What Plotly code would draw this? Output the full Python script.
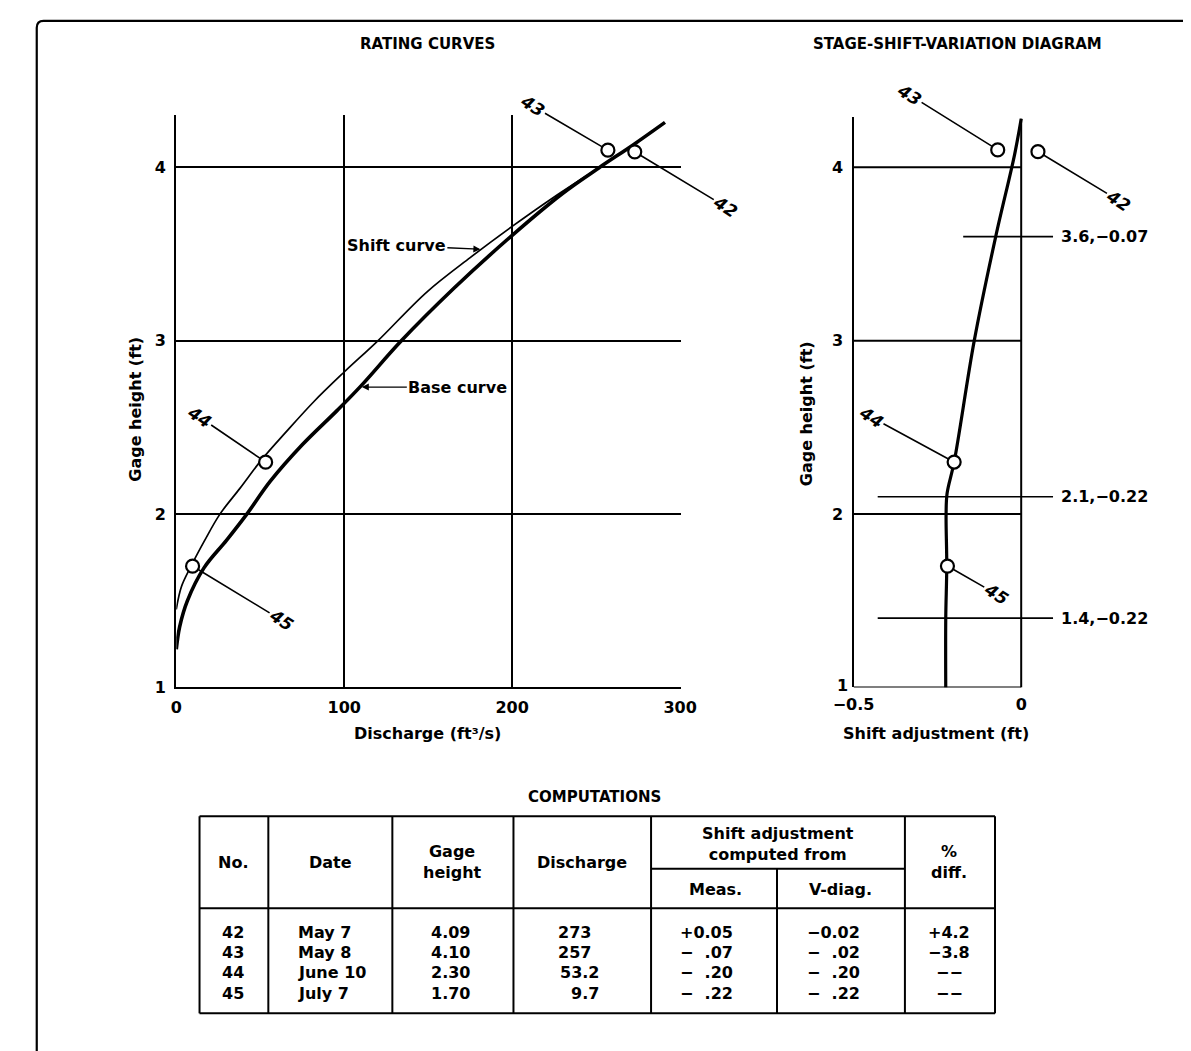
import numpy as np
import plotly.graph_objects as go

W, H = 1191, 1051

# ---- data ----
# rating curves (discharge ft3/s, gage height ft)
base_q = [0, 2, 6.6, 16.5, 30, 42, 56, 75, 96, 110, 134, 165, 199, 230, 252, 272, 291]
base_gh = [1.22, 1.35, 1.5, 1.69, 1.85, 2.0, 2.19, 2.4, 2.6, 2.74, 3.0, 3.3, 3.6, 3.85, 4.0, 4.13, 4.26]
shift_q = [0, 3, 8.8, 17, 26, 38, 50.5, 65, 82, 100, 120, 149, 175, 200, 225, 252]
shift_gh = [1.45, 1.58, 1.70, 1.85, 2.0, 2.15, 2.31, 2.47, 2.65, 2.82, 3.0, 3.28, 3.48, 3.66, 3.83, 4.0]

# stage-shift-variation diagram curve
vcurve_shift = [-0.225, -0.225, -0.222, -0.224, -0.221, -0.20, -0.14, -0.076, -0.02, 0]
vcurve_gh = [1.0, 1.4, 1.7, 2.0, 2.12, 2.3, 3.0, 3.6, 4.07, 4.28]
vdiag_gh = [3.6, 2.1, 1.4]
vdiag_shift = [-0.07, -0.22, -0.22]

# measurements / computations table
meas_no = ["42", "43", "44", "45"]
meas_date = ["May 7", "May 8", "June 10", "July 7"]
meas_gh = [4.09, 4.10, 2.30, 1.70]
meas_q = [273, 257, 53.2, 9.7]
shift_meas = [0.05, -0.07, -0.20, -0.22]
shift_vdiag = [-0.02, -0.02, -0.20, -0.22]
pct_diff = ["+4.2", "\u22123.8", "\u2212\u2212", "\u2212\u2212"]

FONT = "DejaVu Sans, Liberation Sans, sans-serif"
FS = 16


def X(px):
    return px / W


def Y(py):
    return 1 - py / H


def txt(fig, px, py, s, size=FS, anchor="center", angle=0):
    fig.add_annotation(x=X(px), y=Y(py), xref="paper", yref="paper", text=s,
                       showarrow=False, xanchor=anchor, yanchor="middle", textangle=angle,
                       font=dict(family=FONT, size=size, color="black", weight="bold"))


def hline(fig, x0, x1, y, w=2):
    fig.add_shape(type="line", xref="paper", yref="paper", x0=X(x0), x1=X(x1), y0=Y(y), y1=Y(y),
                  line=dict(color="black", width=w))


def vline(fig, x, y0, y1, w=2):
    fig.add_shape(type="line", xref="paper", yref="paper", x0=X(x), x1=X(x), y0=Y(y0), y1=Y(y1),
                  line=dict(color="black", width=w))


def fmt_shift(v, first):
    sign = "+" if v > 0 else "\u2212"
    if first:
        return f"{sign}{abs(v):.2f}"
    return sign + "\u00a0\u00a0" + f"{abs(v):.2f}"[1:]


fig = go.Figure()

# ---- rating curves ----
fig.add_trace(go.Scatter(x=base_q, y=base_gh, mode="lines", line=dict(color="black", width=3.6, shape="spline"),
                         xaxis="x", yaxis="y"))
fig.add_trace(go.Scatter(x=shift_q, y=shift_gh, mode="lines", line=dict(color="black", width=1.7, shape="spline"),
                         xaxis="x", yaxis="y"))
fig.add_trace(go.Scatter(x=meas_q, y=meas_gh, mode="markers", xaxis="x", yaxis="y",
                         marker=dict(size=13, color="white", line=dict(color="black", width=2.2))))

# ---- stage-shift-variation diagram ----
for gh, sh in zip(vdiag_gh, vdiag_shift):
    x_start = -0.173 if gh > 3 else -0.428
    fig.add_trace(go.Scatter(x=[x_start, 0.095], y=[gh, gh], mode="lines", line=dict(color="black", width=1.6),
                             xaxis="x2", yaxis="y2"))
    fig.add_annotation(x=0.113, y=gh, xref="x2", yref="y2", text=f"{gh},{sh:.2f}".replace("-", "\u2212"),
                       showarrow=False, xanchor="left",
                       font=dict(family=FONT, size=FS, color="black", weight="bold"))
fig.add_trace(go.Scatter(x=vcurve_shift, y=vcurve_gh, mode="lines", line=dict(color="black", width=3.2, shape="spline"),
                         xaxis="x2", yaxis="y2"))
fig.add_trace(go.Scatter(x=shift_meas, y=meas_gh, mode="markers", xaxis="x2", yaxis="y2", cliponaxis=False,
                         marker=dict(size=13, color="white", line=dict(color="black", width=2.2))))

# frame/grid of the diagram (only between -0.5 and 0)
for g in [1, 2, 3, 4]:
    fig.add_shape(type="line", xref="x2", yref="y2", x0=-0.5, x1=0, y0=g, y1=g,
                  line=dict(color="black", width=2))
fig.add_shape(type="line", xref="x2", yref="y2", x0=0, x1=0, y0=1, y1=4.28, line=dict(color="black", width=2))

# point labels with leader lines
left_off = {"42": (91, 55), "43": (-75, -44), "44": (-66, -45), "45": (89, 54)}
right_off = {"42": (81, 49), "43": (-88, -55), "44": (-83, -45), "45": (49, 28)}
for no, q, gh, sh in zip(meas_no, meas_q, meas_gh, shift_meas):
    for xr, yr, xv, off in [("x", "y", q, left_off), ("x2", "y2", sh, right_off)]:
        fig.add_annotation(x=xv, y=gh, xref=xr, yref=yr, text=no, ax=off[no][0], ay=off[no][1],
                           showarrow=True, arrowhead=0, arrowwidth=1.6, arrowcolor="black", standoff=7,
                           textangle=33,
                           font=dict(family=FONT, size=17, color="black", style="italic", weight="bold"))

# curve labels
q_sc = float(np.interp(3.528, shift_gh, shift_q))
fig.add_annotation(x=q_sc, y=3.528, xref="x", yref="y", text="Shift curve", ax=-85, ay=-4,
                   showarrow=True, arrowhead=2, arrowsize=1, arrowwidth=1.4, arrowcolor="black", standoff=1,
                   font=dict(family=FONT, size=FS, color="black", weight="bold"))
q_bc = float(np.interp(2.733, base_gh, base_q))
fig.add_annotation(x=q_bc, y=2.733, xref="x", yref="y", text="Base curve", ax=98, ay=0,
                   showarrow=True, arrowhead=2, arrowsize=1, arrowwidth=1.4, arrowcolor="black", standoff=2,
                   font=dict(family=FONT, size=FS, color="black", weight="bold"))

# titles
txt(fig, 411, 36, "RATING CURVES", size=15)
txt(fig, 958, 36, "STAGE-SHIFT-VARIATION DIAGRAM", size=15)
txt(fig, 110, 405, "Gage height (ft)", angle=-90)
txt(fig, 802, 410, "Gage height (ft)", angle=-90)
txt(fig, 411, 732, "Discharge (ft\u00b3/s)")
txt(fig, 936, 732, "Shift adjustment (ft)")

# ---- computations table ----
txt(fig, 584, 797, "COMPUTATIONS", size=15)
tl, tr, tt, tb = 176, 997, 816, 1015
hline(fig, tl, tr, tt)
hline(fig, tl, tr, tb)
hline(fig, tl, tr, 909)
hline(fig, 642, 904, 869)
for cx in [tl, 247, 375, 500, 642, 904, tr]:
    vline(fig, cx, tt, tb)
vline(fig, 772, 869, tb)

txt(fig, 211, 863, "No.")
txt(fig, 311, 863, "Date")
txt(fig, 437, 862, "Gage<br>height")
txt(fig, 571, 863, "Discharge")
txt(fig, 773, 844, "Shift adjustment<br>computed from")
txt(fig, 708, 890, "Meas.")
txt(fig, 838, 890, "V-diag.")
txt(fig, 950, 862, "%<br>diff.")

row_y = [933, 954, 974, 995]
for i, ry in enumerate(row_y):
    txt(fig, 211, ry, meas_no[i])
    txt(fig, 276, ry, meas_date[i], anchor="left")
    txt(fig, 435, ry, f"{meas_gh[i]:.2f}")
    qv = meas_q[i]
    txt(fig, 582 if float(qv).is_integer() else 590, ry, f"{qv:g}", anchor="right")
    txt(fig, 729, ry, fmt_shift(shift_meas[i], i == 0), anchor="right")
    txt(fig, 860, ry, fmt_shift(shift_vdiag[i], i == 0), anchor="right")
    txt(fig, 950, ry, pct_diff[i])

# outer frame of the figure (rounded top-left corner)
fx, fy, r = 8, 13, 7
fig.add_shape(type="path", xref="paper", yref="paper",
              path=f"M {X(fx)},{Y(H + 20)} L {X(fx)},{Y(fy + r)} Q {X(fx)},{Y(fy)} {X(fx + r)},{Y(fy)} L {X(W + 20)},{Y(fy)}",
              line=dict(color="black", width=2.2))

axis_font = dict(family=FONT, size=FS, color="black", weight="bold")
fig.update_layout(
    width=W, height=H, margin=dict(l=0, r=0, t=0, b=0),
    paper_bgcolor="white", plot_bgcolor="white", showlegend=False,
    xaxis=dict(domain=[X(152), X(672.5)], range=[0, 300.3], tickvals=[0, 100, 200, 300],
               showgrid=True, gridcolor="black", gridwidth=2, showline=True, linecolor="black",
               linewidth=2.2, zeroline=False, ticks="", tickfont=axis_font, ticklabelstandoff=4),
    yaxis=dict(domain=[Y(686), Y(108.5)], range=[1, 4.3], tickvals=[1, 2, 3, 4],
               showgrid=True, gridcolor="black", gridwidth=2, showline=True, linecolor="black",
               linewidth=2.2, zeroline=False, ticks="", tickfont=axis_font, ticklabelstandoff=5),
    xaxis2=dict(domain=[X(851), 1.0], range=[-0.5, -0.5 + 340 / 346], tickvals=[-0.5, 0],
                ticktext=["\u22120.5", "0"], showgrid=False, showline=False, zeroline=False,
                ticks="", tickfont=axis_font, anchor="y2", ticklabelstandoff=6),
    yaxis2=dict(domain=[Y(686), Y(110)], range=[1, 4.29], tickvals=[2, 3, 4], showgrid=False,
                showline=True, linecolor="black", linewidth=2.2, zeroline=False, ticks="",
                tickfont=axis_font, anchor="x2", ticklabelstandoff=5),
)
# the "1" of the diagram's height scale sits just above the -0.5 label
fig.add_annotation(x=-0.5, y=1, xref="x2", yref="y2", text="1", showarrow=False, xanchor="right",
                   yanchor="middle", xshift=-4, yshift=2, font=axis_font)

fig.write_html("out.html")
